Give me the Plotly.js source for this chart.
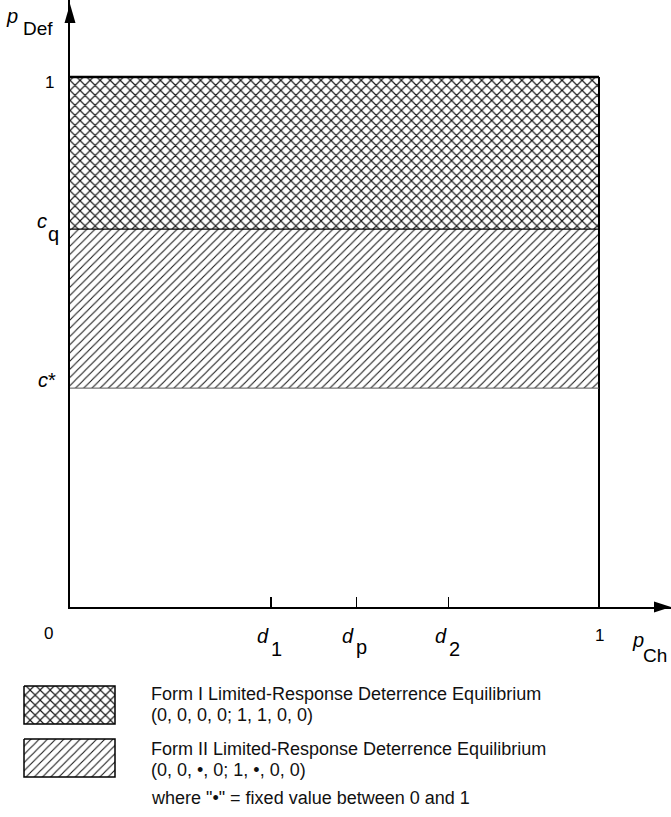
<!DOCTYPE html>
<html>
<head>
<meta charset="utf-8">
<script src="https://cdn.plot.ly/plotly-3.0.1.min.js"></script>
<style>html,body{margin:0;padding:0;background:#fff;}#chart{width:671px;height:817px;}</style>
</head>
<body>
<div id="chart"></div>
<script>
// ---------------- data ----------------
const xTickVals = [0.380, 0.541, 0.716];          // d1, dp, d2 on p_Ch
const xTickMain = ['d', 'd', 'd'];
const xTickSub  = ['1', 'p', '2'];
const cQ = 0.713;                                  // c_q on p_Def
const cStar = 0.413;                               // c* on p_Def
const regionX   = [0, 1, 1, 0, 0];
const formIY    = [cQ, cQ, 1, 1, cQ];
const formIIY   = [cStar, cStar, cQ, cQ, cStar];
const legendLines = [
  'Form I Limited-Response Deterrence Equilibrium',
  '(0, 0, 0, 0; 1, 1, 0, 0)',
  'Form II Limited-Response Deterrence Equilibrium',
  '(0, 0, \u2022, 0; 1, \u2022, 0, 0)',
  'where "\u2022" = fixed value between 0 and 1'
];

// ---------------- layout helpers ----------------
const W = 671, H = 817;
const px = p => p / W;
const py = p => 1 - p / H;
const FONT = 'Liberation Sans, Arial, Helvetica, sans-serif';
const NUM = 17, LET = 20, LEG = 18;

const crossPat = {shape: 'x', size: 7.1, solidity: 0.3, fgcolor: '#1a1a1a', bgcolor: '#ffffff'};
const diagPat  = {shape: '/', size: 5.8, solidity: 0.19, fgcolor: '#1a1a1a', bgcolor: '#ffffff'};

const traces = [
  {x: regionX, y: formIY, type: 'scatter', mode: 'lines', fill: 'toself',
   fillcolor: '#ffffff', fillpattern: crossPat, line: {width: 0}, hoverinfo: 'skip', showlegend: false},
  {x: regionX, y: formIIY, type: 'scatter', mode: 'lines', fill: 'toself',
   fillcolor: '#ffffff', fillpattern: diagPat, line: {width: 0}, hoverinfo: 'skip', showlegend: false},
  // legend swatches (pixel-unit helper axes)
  {x: [24, 115, 115, 24, 24], y: [686, 686, 724, 724, 686], xaxis: 'x2', yaxis: 'y2',
   type: 'scatter', mode: 'lines', fill: 'toself', fillcolor: '#ffffff', fillpattern: crossPat,
   line: {width: 1.5, color: '#000'}, hoverinfo: 'skip', showlegend: false},
  {x: [24, 115, 115, 24, 24], y: [739, 739, 777, 777, 739], xaxis: 'x2', yaxis: 'y2',
   type: 'scatter', mode: 'lines', fill: 'toself', fillcolor: '#ffffff', fillpattern: diagPat,
   line: {width: 1.5, color: '#000'}, hoverinfo: 'skip', showlegend: false}
];

const shapes = [
  // region boundaries
  {type: 'line', xref: 'x', yref: 'y', x0: regionX[0], x1: regionX[1], y0: 1, y1: 1, line: {color: '#000', width: 2.5}},
  {type: 'line', xref: 'x', yref: 'y', x0: 1, x1: 1, y0: 0, y1: 1, line: {color: '#000', width: 2}},
  {type: 'line', xref: 'x', yref: 'y', x0: 0, x1: 1, y0: cQ, y1: cQ, line: {color: '#000', width: 1.3}},
  {type: 'line', xref: 'x', yref: 'y', x0: 0, x1: 1, y0: cStar, y1: cStar, line: {color: '#555', width: 1}},
  // arrowheads
  {type: 'path', xref: 'paper', yref: 'paper',
   path: `M${px(671)},${py(607)} L${px(654)},${py(601.5)} L${px(654)},${py(612.5)} Z`,
   fillcolor: '#000', line: {width: 0}},
  {type: 'path', xref: 'paper', yref: 'paper',
   path: `M${px(70)},${py(4)} L${px(64.5)},${py(23)} L${px(75.5)},${py(23)} Z`,
   fillcolor: '#000', line: {width: 0}}
];

const ann = [];
function lab(text, x, y, dx, dy, size, opts) {
  ann.push(Object.assign({text: text, x: x, y: y, xref: 'x', yref: 'y', showarrow: false,
    xanchor: 'center', yanchor: 'middle', xshift: dx, yshift: dy,
    font: {family: FONT, size: size, color: '#000'}}, opts || {}));
}
// y axis labels
lab('1', 0, 1, -21, -5.5, NUM);
lab('<i>c</i>', 0, cQ, -28, 8.5, LET);
lab('q', 0, cQ, -16.5, -5, LET);
lab('<i>c</i>*', 0, cStar, -23, 8.5, LET);
// x axis labels
lab('0', 0, 0, -22, -26, NUM);
lab('1', 1, 0, 0, -28, NUM);
xTickVals.forEach((v, i) => {
  lab('<i>' + xTickMain[i] + '</i>', v, 0, -8, -29, LET);
  lab(xTickSub[i], v, 0, 5.5, xTickSub[i] === 'p' ? -40 : -42, LET);
});
// axis titles
ann.push({text: '<i>p</i>', x: px(12), y: py(16), xref: 'paper', yref: 'paper', showarrow: false,
  xanchor: 'center', yanchor: 'middle', font: {family: FONT, size: LET, color: '#000'}});
ann.push({text: 'Def', x: px(37.5), y: py(29), xref: 'paper', yref: 'paper', showarrow: false,
  xanchor: 'center', yanchor: 'middle', font: {family: FONT, size: 19, color: '#000'}});
ann.push({text: '<i>p</i>', x: px(637.5), y: py(640), xref: 'paper', yref: 'paper', showarrow: false,
  xanchor: 'center', yanchor: 'middle', font: {family: FONT, size: LET, color: '#000'}});
ann.push({text: 'Ch', x: px(641), y: py(655), xref: 'paper', yref: 'paper', showarrow: false,
  xanchor: 'left', yanchor: 'middle', font: {family: FONT, size: 19, color: '#000'}});
// legend text
const legY = [693.5, 714.5, 748.5, 769.5, 798];
legendLines.forEach((t, i) => {
  ann.push({text: t, x: px(149), y: py(legY[i]), xref: 'paper', yref: 'paper', showarrow: false,
    xanchor: 'left', yanchor: 'middle', font: {family: FONT, size: LEG, color: '#111'}});
});

const layout = {
  width: W, height: H,
  margin: {l: 0, r: 0, t: 0, b: 0, pad: 0},
  paper_bgcolor: '#fff', plot_bgcolor: 'rgba(0,0,0,0)',
  showlegend: false,
  xaxis: {domain: [px(70), 1], range: [0, 601 / 529], showgrid: false, zeroline: false,
    showline: true, linecolor: '#000', linewidth: 2,
    ticks: 'inside', ticklen: 10, tickwidth: 1.2, tickcolor: '#000',
    tickmode: 'array', tickvals: xTickVals, showticklabels: false, fixedrange: true},
  yaxis: {domain: [1 - 607 / H, 1], range: [0, 607 / 530], showgrid: false, zeroline: false,
    showline: true, linecolor: '#000', linewidth: 2, ticks: '', showticklabels: false, fixedrange: true},
  xaxis2: {domain: [0, 1], range: [0, W], visible: false, anchor: 'y2', fixedrange: true},
  yaxis2: {domain: [0, 1 - 680 / H], range: [817, 680], visible: false, anchor: 'x2', fixedrange: true},
  shapes: shapes,
  annotations: ann
};

Plotly.newPlot('chart', traces, layout, {displayModeBar: false, staticPlot: true});
</script>
</body>
</html>
